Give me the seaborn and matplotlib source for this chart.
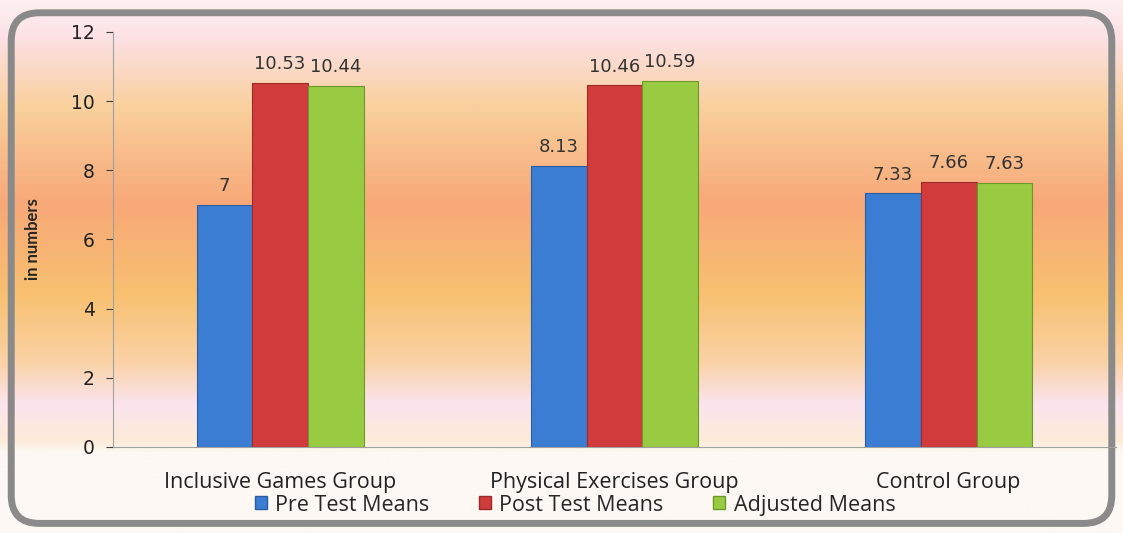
import numpy as np
import pandas as pd
import matplotlib.pyplot as plt
import seaborn as sns
from matplotlib.colors import LinearSegmentedColormap
from matplotlib.patches import FancyBboxPatch, Patch

# dati
gruppi = ["Inclusive Games Group", "Physical Exercises Group", "Control Group"]
serie = ["Pre Test Means", "Post Test Means", "Adjusted Means"]
pre_test = [7, 8.13, 7.33]
post_test = [10.53, 10.46, 7.66]
adjusted = [10.44, 10.59, 7.63]
etichette = [["7", "8.13", "7.33"], ["10.53", "10.46", "7.66"], ["10.44", "10.59", "7.63"]]
colori = ["#3b7dd3", "#d23b3b", "#98cb42"]
bordi = ["#2a5c9e", "#9c2a2a", "#6b9a2a"]

df = pd.DataFrame({
    "gruppo": gruppi * 3,
    "serie": [s for s in serie for _ in gruppi],
    "valore": pre_test + post_test + adjusted,
})

sns.set_style("white")
plt.rcParams["font.family"] = ["DejaVu Sans"]

fig = plt.figure(figsize=(11.23, 5.33), dpi=100)

# sfondo sfumato
bg = fig.add_axes([0, 0, 1, 1], zorder=0)
bg.set_axis_off()
cmap = LinearSegmentedColormap.from_list("sfondo", [
    (0.00, "#fdf8f4"), (0.15, "#fdf8f4"), (0.17, "#fcecd8"), (0.24, "#fbe4ee"),
    (0.32, "#fad2a6"), (0.45, "#f8c070"), (0.62, "#f7a878"), (0.80, "#f9d09c"),
    (0.93, "#fce0e4"), (1.00, "#fdf0f0")])
grad = np.linspace(0, 1, 400).reshape(-1, 1)
bg.imshow(grad, aspect="auto", cmap=cmap, origin="lower", extent=[0, 1, 0, 1])
bg.set_xlim(0, 1)
bg.set_ylim(0, 1)
cornice = FancyBboxPatch((0.010, 0.018), 0.980, 0.958, boxstyle="round,pad=0,rounding_size=0.025",
                         transform=bg.transAxes, fill=False, edgecolor="#8a8a8a", linewidth=5,
                         mutation_aspect=2.1)
bg.add_patch(cornice)

ax = fig.add_axes([0.1006, 0.1614, 0.893, 0.7786], zorder=1)
ax.patch.set_alpha(0)
sns.barplot(data=df, x="gruppo", y="valore", hue="serie", palette=colori, saturation=1,
            width=0.5, gap=0, ax=ax, legend=False)

for i, cont in enumerate(ax.containers):
    for bar in cont:
        bar.set_edgecolor(bordi[i])
        bar.set_linewidth(0.8)
    ax.bar_label(cont, labels=etichette[i], padding=7, fontsize=13, color="#333333")

ax.set_ylim(0, 12)
ax.set_yticks(range(0, 13, 2))
ax.set_xlim(-0.5, 2.5)
ax.tick_params(axis="y", labelsize=13.5, colors="#404040", length=5, left=True, direction="out",
               pad=8)
ax.tick_params(axis="x", length=0, pad=18)
for lab in ax.get_xticklabels():
    lab.set_fontfamily("Open Sans")
    lab.set_fontsize(15.5)
    lab.set_color("#222222")
for lab in ax.get_yticklabels():
    lab.set_color("#222222")
ax.set_xlabel("")
ax.set_ylabel("in numbers", fontsize=12, fontweight="bold", labelpad=22)
ax.yaxis.label.set_fontfamily("Lato")
sns.despine(ax=ax, top=True, right=True)
ax.spines["left"].set_color("#a0a0a0")
ax.spines["bottom"].set_color("#a0a0a0")

# legenda
handles = [Patch(facecolor=colori[i], edgecolor=bordi[i], label=serie[i]) for i in range(3)]
fig.legend(handles=handles, loc="center", bbox_to_anchor=(0.512, 0.0525), ncol=3, frameon=False,
           prop={"family": "Open Sans", "size": 15.5}, handlelength=0.55, handleheight=0.55,
           handletextpad=0.4, columnspacing=2.3)

fig.savefig("out.png", dpi=100)
